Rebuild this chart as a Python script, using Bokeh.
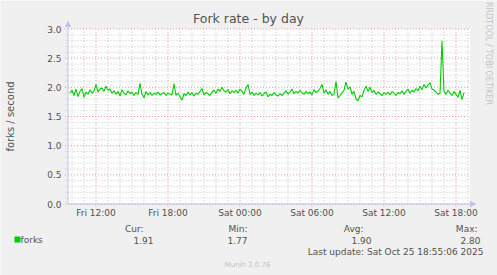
import numpy as np
from bokeh.plotting import figure
from bokeh.models import Range1d, ColumnDataSource, Arrow, NormalHead
from bokeh.core.properties import value
from bokeh.embed import file_html
from bokeh.resources import INLINE

title = "Fork rate - by day"
y_label = "forks / second"
series_name = "forks"
start_hour = 9 + 50 / 60     # Fri 09:50, hours counted from Fri 00:00
step_hours = 10 / 60         # one reading every 10 minutes

forks = [
    1.90, 1.95, 1.86, 1.97, 1.84, 1.93,
    1.98, 1.83, 1.92, 1.88, 1.96, 1.90,
    1.94, 2.05, 1.92, 1.97, 1.99, 1.93,
    2.02, 1.95, 1.97, 1.90, 1.94, 1.88,
    1.93, 1.85, 1.96, 1.90, 1.87, 1.94,
    1.89, 1.92, 1.86, 1.91, 1.88, 2.07,
    1.88, 1.82, 1.93, 1.87, 1.91, 1.86,
    1.90, 1.88, 1.92, 1.87, 1.89, 1.91,
    1.86, 1.90, 1.88, 1.87, 2.06, 1.86,
    1.90, 1.84, 1.78, 1.89, 1.86, 1.92,
    1.87, 1.91, 1.85, 1.90, 1.88, 1.93,
    1.98, 1.87, 1.91, 1.89, 1.86, 1.92,
    1.95, 1.90, 1.97, 1.93, 2.00, 1.94,
    1.92, 1.96, 1.89, 1.94, 1.91, 1.95,
    1.90, 1.97, 1.93, 1.88, 1.99, 2.05,
    1.88, 1.92, 1.86, 1.90, 1.87, 1.91,
    1.85, 1.89, 1.92, 1.84, 1.88, 1.86,
    1.91, 1.87, 1.85, 1.89, 1.86, 1.90,
    1.94, 1.88, 1.92, 1.97, 1.89, 1.93,
    1.90, 1.95, 1.91, 1.88, 1.93, 1.89,
    1.92, 1.87, 1.96, 1.91, 1.94, 1.98,
    2.05, 1.90, 1.96, 1.88, 1.93, 1.86,
    1.88, 2.10, 1.82, 1.86, 1.90, 1.95,
    2.09, 1.97, 2.01, 1.88, 1.93, 1.80,
    1.77, 1.86, 1.84, 1.95, 2.02, 1.93,
    2.00, 1.91, 1.95, 1.88, 1.92, 1.89,
    1.86, 1.91, 1.88, 1.92, 1.87, 1.93,
    1.90, 1.86, 1.91, 1.89, 1.94, 1.88,
    1.93, 1.97, 1.90, 1.95, 1.92, 1.98,
    1.94, 2.02, 1.96, 2.05, 1.99, 2.04,
    2.08, 1.97, 1.95, 1.92, 1.88, 1.90,
    2.80, 1.93, 1.88, 1.95, 1.90, 1.86,
    1.93, 1.88, 1.83, 1.95, 1.79, 1.91,
]

x_tick_hours = [12, 18, 24, 30, 36, 42]
x_tick_labels = ["Fri 12:00", "Fri 18:00", "Sat 00:00", "Sat 06:00", "Sat 12:00", "Sat 18:00"]
x_minor_hours = [h for h in range(10, 44) if h not in x_tick_hours]
y_ticks = [0.0, 0.5, 1.0, 1.5, 2.0, 2.5, 3.0]
y_tick_labels = ["0.0", "0.5", "1.0", "1.5", "2.0", "2.5", "3.0"]
y_minor = [round(i * 0.1, 1) for i in range(31) if i % 5 != 0]

stats_headers = ["Cur:", "Min:", "Avg:", "Max:"]
stats_values = ["1.91", "1.77", "1.90", "2.80"]
last_update = "Last update: Sat Oct 25 18:55:06 2025"
footer = "Munin 2.0.76"
side_text = "RRDTOOL / TOBI OETIKER"

# ---- layout (pixels in the 497x275 picture) ----
FONT = "DejaVu Sans"
TXT = "#505050"
W, H = 497, 275
X0, X1 = 9 + 40 / 60, 43 + 10 / 60       # visible time window (hours)
Y0, Y1 = 0.0, 3.0
FL, FR, FT, FB = 67.5, 469.5, 28.5, 203.5
PPX = (FR - FL) / (X1 - X0)
PPY = (FB - FT) / (Y1 - Y0)


def X(px):
    return X0 + (px - FL) / PPX


def Y(py):
    return Y0 + (FB - py) / PPY


p = figure(width=W, height=H, output_backend="svg", toolbar_location=None,
           x_range=Range1d(X(0), X(W)), y_range=Range1d(Y(H), Y(0)),
           x_axis_location=None, y_axis_location=None, min_border=0)
p.grid.visible = False
p.outline_line_color = None
p.background_fill_color = "#F0F0F0"
p.border_fill_color = "#F0F0F0"

# plot area
p.quad(left=[X0], right=[X1], bottom=[Y0], top=[Y1], fill_color="#FFFFFF", line_color=None)

# minor grid
p.segment(x0=x_minor_hours, x1=x_minor_hours, y0=Y0, y1=Y1,
          line_color="#C8C8C8", line_width=1, line_dash="1 2")
p.segment(x0=X(65), x1=X1, y0=y_minor, y1=y_minor,
          line_color="#C8C8C8", line_width=1, line_dash="1 2")
# major grid
p.segment(x0=x_tick_hours, x1=x_tick_hours, y0=Y(206.5), y1=Y1,
          line_color="#F29A9A", line_width=1, line_dash="1 2")
p.segment(x0=X(64.5), x1=X1, y0=y_ticks, y1=y_ticks,
          line_color="#F29A9A", line_width=1, line_dash="1 2")

# axes lines with arrow heads
AX = "#C0C0F2"
p.add_layout(Arrow(x_start=X0, y_start=Y0, x_end=X0, y_end=Y(21), line_color=AX, line_width=1,
                   end=NormalHead(size=5, fill_color=AX, line_color=AX)))
p.add_layout(Arrow(x_start=X0, y_start=Y0, x_end=X(475), y_end=Y0, line_color=AX, line_width=1,
                   end=NormalHead(size=5, fill_color=AX, line_color=AX)))

# data
times = start_hour + np.arange(len(forks)) * step_hours
src = ColumnDataSource(dict(t=times, v=forks))
p.line("t", "v", source=src, line_color="#00CC00", line_width=1.1)


def txt(xs, ys, texts, size, align="left", color=TXT, angle=0.0, baseline="middle"):
    p.text(x=xs, y=ys, text=texts, text_font=value(FONT), text_font_size=value(f"{size}px"),
           text_color=color, text_align=align, text_baseline=baseline, angle=angle)


# tick labels
txt([X(61)] * len(y_ticks), y_ticks, y_tick_labels, 9, "right")
txt(x_tick_hours, [Y(212)] * len(x_tick_hours), x_tick_labels, 9, "center")

# titles
txt([X(248)], [Y(18)], [title], 12.5, "center")
txt([X(10)], [Y(116)], [y_label], 10, "center", angle=np.pi / 2)
txt([X(488)], [Y(53)], [side_text], 8, "center", "#C4C4C4", angle=-np.pi / 2)

# legend
p.quad(left=[X(14)], right=[X(20)], top=[Y(236)], bottom=[Y(242)], fill_color="#00CC00", line_color=None)
txt([X(20)], [Y(239.5)], [series_name], 9)
header_right = [143, 247, 363, 477]
value_right = [153, 247, 371, 480]
txt([X(v) for v in header_right], [Y(228)] * 4, stats_headers, 9, "right")
txt([X(v) for v in value_right], [Y(239.5)] * 4, stats_values, 9, "right")
txt([X(483)], [Y(251)], [last_update], 9, "right")
txt([X(247)], [Y(264)], [footer], 7, "center", "#C0C0C0")

open("out.html", "w").write(file_html(p, INLINE))
